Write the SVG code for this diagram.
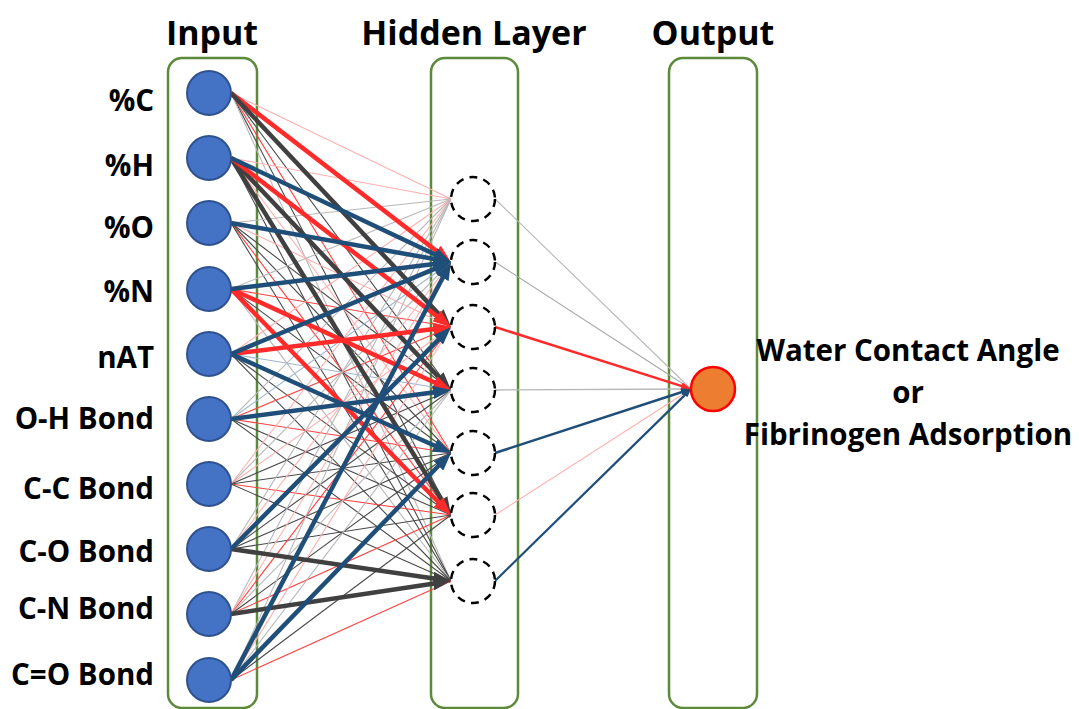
<svg xmlns="http://www.w3.org/2000/svg" width="1079" height="709" viewBox="0 0 1079 709">
  <style>
    text { font-family: "Open Sans", "Liberation Sans", sans-serif; font-weight: bold; fill: #000; }
    .title { font-size: 34px; text-anchor: middle; }
    .lbl { font-size: 29.5px; text-anchor: end; }
    .out { font-size: 29.5px; text-anchor: middle; }
    .box { fill: none; stroke: #5b8a3a; stroke-width: 2.5; }
    .in { fill: #4472c4; stroke: #2f528f; stroke-width: 2; }
    .hid { fill: #fff; stroke: #000; stroke-width: 2.5; stroke-dasharray: 8 6.2; }
    .res { fill: #ed7d31; stroke: #ff0000; stroke-width: 2.5; }
    line { fill: none; }
    .d { stroke: #4a4a4a; stroke-width: 1.1; marker-end: url(#md); }
    .g { stroke: #b8b8b8; stroke-width: 1.1; marker-end: url(#mg); }
    .r { stroke: #ff4040; stroke-width: 1.1; marker-end: url(#mr); }
    .p { stroke: #ffb0b0; stroke-width: 1.1; marker-end: url(#mp); }
    .b { stroke: #9db5d1; stroke-width: 1.1; marker-end: url(#mb); }
    .D { stroke: #404040; stroke-width: 4.5; marker-end: url(#mD); }
    .R { stroke: #ff2b2b; stroke-width: 4.5; marker-end: url(#mR); }
    .B { stroke: #1f4e79; stroke-width: 4.5; marker-end: url(#mB); }
    .R2 { stroke: #ff2b2b; stroke-width: 2.5; marker-end: url(#mR); }
    .B2 { stroke: #1f4e79; stroke-width: 2.5; marker-end: url(#mB); }
  </style>
  <defs>
    <marker id="md" viewBox="0 0 4 3" refX="2.5" refY="1.5" markerWidth="4" markerHeight="3" orient="auto" markerUnits="strokeWidth"><path d="M0,0L4,1.5L0,3z" fill="#4a4a4a"/></marker>
    <marker id="mg" viewBox="0 0 4 3" refX="2.5" refY="1.5" markerWidth="4" markerHeight="3" orient="auto" markerUnits="strokeWidth"><path d="M0,0L4,1.5L0,3z" fill="#b8b8b8"/></marker>
    <marker id="mr" viewBox="0 0 4 3" refX="2.5" refY="1.5" markerWidth="4" markerHeight="3" orient="auto" markerUnits="strokeWidth"><path d="M0,0L4,1.5L0,3z" fill="#ff4040"/></marker>
    <marker id="mp" viewBox="0 0 4 3" refX="2.5" refY="1.5" markerWidth="4" markerHeight="3" orient="auto" markerUnits="strokeWidth"><path d="M0,0L4,1.5L0,3z" fill="#ffb0b0"/></marker>
    <marker id="mb" viewBox="0 0 4 3" refX="2.5" refY="1.5" markerWidth="4" markerHeight="3" orient="auto" markerUnits="strokeWidth"><path d="M0,0L4,1.5L0,3z" fill="#9db5d1"/></marker>
    <marker id="mD" viewBox="0 0 4 3" refX="2.5" refY="1.5" markerWidth="4" markerHeight="3" orient="auto" markerUnits="strokeWidth"><path d="M0,0L4,1.5L0,3z" fill="#404040"/></marker>
    <marker id="mR" viewBox="0 0 4 3" refX="2.5" refY="1.5" markerWidth="4" markerHeight="3" orient="auto" markerUnits="strokeWidth"><path d="M0,0L4,1.5L0,3z" fill="#ff2b2b"/></marker>
    <marker id="mB" viewBox="0 0 4 3" refX="2.5" refY="1.5" markerWidth="4" markerHeight="3" orient="auto" markerUnits="strokeWidth"><path d="M0,0L4,1.5L0,3z" fill="#1f4e79"/></marker>
  </defs>

  <rect width="1079" height="709" fill="#fff"/>

  <!-- layer titles -->
  <g id="titles">
    <text class="title" x="212" y="45">Input</text>
    <text class="title" x="474" y="45">Hidden Layer</text>
    <text class="title" x="713" y="45">Output</text>
  </g>

  <!-- layer frames -->
  <g id="frames">
    <rect id="frame-input" class="box" x="168" y="58" width="89" height="650" rx="14"/>
    <rect id="frame-hidden" class="box" x="431" y="58" width="87" height="650" rx="14"/>
    <rect id="frame-output" class="box" x="669" y="58" width="88" height="650" rx="14"/>
  </g>

  <!-- weighted connections -->
  <g id="connectors">
    <!-- weak weights, input to hidden -->
    <line class="p" x1="231" y1="93" x2="451" y2="199"/>
    <line class="d" x1="231" y1="93" x2="451" y2="390"/>
    <line class="r" x1="231" y1="93" x2="451" y2="453"/>
    <line class="d" x1="231" y1="93" x2="451" y2="515"/>
    <line class="g" x1="231" y1="93" x2="451" y2="581"/>

    <line class="p" x1="231" y1="158" x2="451" y2="199"/>
    <line class="p" x1="231" y1="158" x2="451" y2="453"/>
    <line class="d" x1="231" y1="158" x2="451" y2="581"/>

    <line class="g" x1="231" y1="223" x2="451" y2="199"/>
    <line class="p" x1="231" y1="223" x2="451" y2="327"/>
    <line class="d" x1="231" y1="223" x2="451" y2="390"/>
    <line class="d" x1="231" y1="223" x2="451" y2="453"/>
    <line class="r" x1="231" y1="223" x2="451" y2="515"/>
    <line class="d" x1="231" y1="223" x2="451" y2="581"/>

    <line class="g" x1="231" y1="289" x2="451" y2="199"/>
    <line class="r" x1="231" y1="289" x2="451" y2="327"/>
    <line class="d" x1="231" y1="289" x2="451" y2="453"/>
    <line class="g" x1="231" y1="289" x2="451" y2="581"/>

    <line class="p" x1="231" y1="354" x2="451" y2="199"/>
    <line class="b" x1="231" y1="354" x2="451" y2="390"/>
    <line class="d" x1="231" y1="354" x2="451" y2="515"/>
    <line class="d" x1="231" y1="354" x2="451" y2="581"/>

    <line class="g" x1="231" y1="419" x2="451" y2="199"/>
    <line class="b" x1="231" y1="419" x2="451" y2="262"/>
    <line class="r" x1="231" y1="419" x2="451" y2="327"/>
    <line class="r" x1="231" y1="419" x2="451" y2="453"/>
    <line class="d" x1="231" y1="419" x2="451" y2="515"/>
    <line class="d" x1="231" y1="419" x2="451" y2="581"/>

    <line class="p" x1="231" y1="484" x2="451" y2="199"/>
    <line class="g" x1="231" y1="484" x2="451" y2="262"/>
    <line class="p" x1="231" y1="484" x2="451" y2="327"/>
    <line class="d" x1="231" y1="484" x2="451" y2="390"/>
    <line class="d" x1="231" y1="484" x2="451" y2="453"/>
    <line class="r" x1="231" y1="484" x2="451" y2="515"/>
    <line class="d" x1="231" y1="484" x2="451" y2="581"/>

    <line class="g" x1="231" y1="549" x2="451" y2="199"/>
    <line class="p" x1="231" y1="549" x2="451" y2="262"/>
    <line class="d" x1="231" y1="549" x2="451" y2="390"/>
    <line class="d" x1="231" y1="549" x2="451" y2="453"/>
    <line class="d" x1="231" y1="549" x2="451" y2="515"/>

    <line class="g" x1="231" y1="614" x2="451" y2="199"/>
    <line class="p" x1="231" y1="614" x2="451" y2="262"/>
    <line class="r" x1="231" y1="614" x2="451" y2="327"/>
    <line class="g" x1="231" y1="614" x2="451" y2="390"/>
    <line class="d" x1="231" y1="614" x2="451" y2="453"/>
    <line class="r" x1="231" y1="614" x2="451" y2="515"/>

    <line class="g" x1="231" y1="680" x2="451" y2="199"/>
    <line class="p" x1="231" y1="680" x2="451" y2="327"/>
    <line class="g" x1="231" y1="680" x2="451" y2="390"/>
    <line class="d" x1="231" y1="680" x2="451" y2="515"/>
    <line class="r" x1="231" y1="680" x2="451" y2="581"/>

    <!-- strong weights, input to hidden -->
    <line class="R" x1="231" y1="93" x2="445.6" y2="257.9"/>
    <line class="D" x1="231" y1="93" x2="446.4" y2="322.1"/>
    <line class="D" x1="231" y1="158" x2="446.4" y2="385.1"/>
    <line class="D" x1="231" y1="158" x2="447.5" y2="509.3"/>
    <line class="R" x1="231" y1="158" x2="445.6" y2="322.9"/>
    <line class="B" x1="231" y1="158" x2="444.9" y2="259.1"/>
    <line class="B" x1="231" y1="223" x2="444.4" y2="260.8"/>
    <line class="R" x1="231" y1="289" x2="444.9" y2="387.2"/>
    <line class="R" x1="231" y1="289" x2="446.3" y2="510.2"/>
    <line class="B" x1="231" y1="289" x2="444.3" y2="262.8"/>
    <line class="R" x1="231" y1="354" x2="444.3" y2="327.8"/>
    <line class="B" x1="231" y1="354" x2="444.8" y2="264.6"/>
    <line class="B" x1="231" y1="354" x2="444.8" y2="450.2"/>
    <line class="B" x1="231" y1="419" x2="444.3" y2="390.9"/>
    <line class="D" x1="231" y1="549" x2="444.3" y2="580.0"/>
    <line class="D" x1="231" y1="614" x2="444.3" y2="582.0"/>
    <line class="B" x1="231" y1="549" x2="446.2" y2="331.8"/>
    <line class="B" x1="231" y1="680" x2="447.9" y2="268.0"/>
    <line class="B" x1="231" y1="680" x2="446.3" y2="457.8"/>

    <!-- hidden to output -->
    <line class="g" x1="495" y1="199" x2="691" y2="389"/>
    <line class="g" x1="495" y1="262" x2="691" y2="389" style="stroke:#a8a8a8"/>
    <line class="g" x1="495" y1="390" x2="691" y2="389" style="stroke-width:1.3"/>
    <line class="p" x1="495" y1="515" x2="691" y2="389"/>
    <line class="R2" x1="495" y1="327" x2="687.4" y2="387.9"/>
    <line class="B2" x1="495" y1="453" x2="687.4" y2="390.2"/>
    <line class="B2" x1="495" y1="581" x2="688.9" y2="391.1" style="stroke-width:2.2"/>
  </g>

  <!-- input features -->
  <g id="input-nodes">
    <g id="in-c"><circle class="in" cx="209" cy="93" r="22"/><text class="lbl" x="154" y="111">%C</text></g>
    <g id="in-h"><circle class="in" cx="209" cy="158" r="22"/><text class="lbl" x="154" y="176">%H</text></g>
    <g id="in-o"><circle class="in" cx="209" cy="223" r="22"/><text class="lbl" x="154" y="238">%O</text></g>
    <g id="in-n"><circle class="in" cx="209" cy="289" r="22"/><text class="lbl" x="154" y="302">%N</text></g>
    <g id="in-nat"><circle class="in" cx="209" cy="354" r="22"/><text class="lbl" x="154" y="368">nAT</text></g>
    <g id="in-oh"><circle class="in" cx="209" cy="419" r="22"/><text class="lbl" x="154" y="429">O-H Bond</text></g>
    <g id="in-cc"><circle class="in" cx="209" cy="484" r="22"/><text class="lbl" x="154" y="499">C-C Bond</text></g>
    <g id="in-co"><circle class="in" cx="209" cy="549" r="22"/><text class="lbl" x="154" y="562">C-O Bond</text></g>
    <g id="in-cn"><circle class="in" cx="209" cy="614" r="22"/><text class="lbl" x="154" y="619">C-N Bond</text></g>
    <g id="in-c2o"><circle class="in" cx="209" cy="680" r="22"/><text class="lbl" x="154" y="685">C=O Bond</text></g>
  </g>

  <!-- hidden neurons -->
  <g id="hidden-nodes">
    <g id="h1"><circle class="hid" cx="473" cy="199" r="22"/></g>
    <g id="h2"><circle class="hid" cx="473" cy="262" r="22"/></g>
    <g id="h3"><circle class="hid" cx="473" cy="327" r="22"/></g>
    <g id="h4"><circle class="hid" cx="473" cy="390" r="22"/></g>
    <g id="h5"><circle class="hid" cx="473" cy="453" r="22"/></g>
    <g id="h6"><circle class="hid" cx="473" cy="515" r="22"/></g>
    <g id="h7"><circle class="hid" cx="473" cy="581" r="22"/></g>
  </g>

  <!-- output neuron and target label -->
  <g id="output-node">
    <circle class="res" cx="713" cy="389" r="22"/>
    <text class="out" x="908" y="361">Water Contact Angle</text>
    <text class="out" x="908" y="403">or</text>
    <text class="out" x="908" y="445">Fibrinogen Adsorption</text>
  </g>
</svg>
